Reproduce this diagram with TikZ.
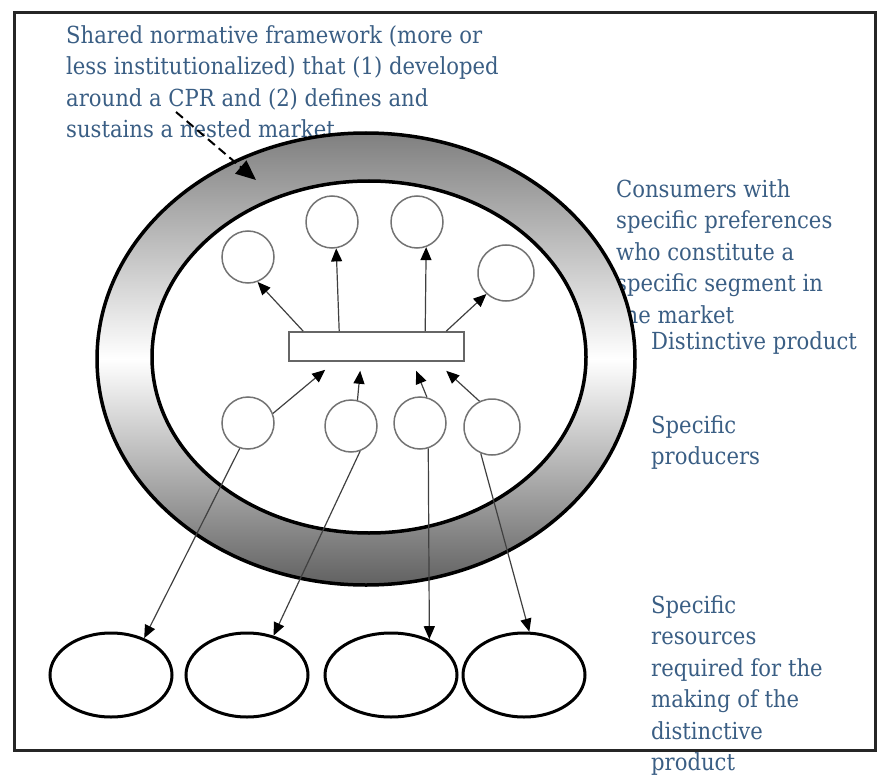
\documentclass[tikz,border=0pt]{standalone}
\usepackage{fontspec}
\setmainfont{DejaVu Serif}[FakeStretch=0.9]
\usepackage{tikz}
\usetikzlibrary{arrows.meta,shapes.geometric}
\definecolor{noteblue}{RGB}{58,94,132}

\begin{document}
\begin{tikzpicture}[x=1pt,y=-1pt,
  note/.style={text=noteblue,anchor=north west,align=left,inner sep=0pt,font=\fontsize{23.5}{31.5}\selectfont},
  agent/.style={circle,draw=black!55,line width=1.5pt,fill=white,minimum size=52pt,inner sep=0pt},
  resource/.style={ellipse,draw=black,line width=3pt,minimum width=122pt,minimum height=84pt,inner sep=0pt},
  flow/.style={draw=black!75,line width=1.2pt,-{Triangle[length=13pt,width=11pt,color=black]}}]
\useasboundingbox (0,0) rectangle (883,778);
\node[note] (frametext) at (66,25) {Shared normative framework (more or\\less institutionalized) that (1) developed\\around a CPR and (2) defines and\\sustains a nested market};
\node[note] (consumertext) at (616,179) {Consumers with\\specific preferences\\who constitute a\\specific segment in\\the market};
\node[note] (producttext) at (651,331) {Distinctive product};
\node[note] (producertext) at (651,415) {Specific\\producers};
\node[note] (resourcetext) at (651,595) {Specific\\resources\\required for the\\making of the\\distinctive\\product};
\shade[even odd rule,top color=black!50,bottom color=black!62,middle color=white]
  (366,359) ellipse [x radius=269pt,y radius=226pt] (369,357) ellipse [x radius=217pt,y radius=176pt];
\draw[line width=3.5pt] (366,359) ellipse [x radius=269pt,y radius=226pt];
\draw[line width=3.5pt] (369,357) ellipse [x radius=217pt,y radius=176pt];
\coordinate (cprmark) at (176,112);
\coordinate (ringmark) at (256,180);
\draw[line width=2pt,dash pattern=on 9pt off 5pt,-{Triangle[length=20pt,width=17pt]}] (cprmark) -- (ringmark);
\node[draw=black!60,line width=1.6pt,fill=white,minimum width=175pt,minimum height=29pt,inner sep=0pt] (prod) at (376.5,346.5) {};
\node[agent] (c1) at (248,257) {};
\node[agent] (c2) at (332,222) {};
\node[agent] (c3) at (417,222) {};
\node[agent,minimum size=56pt] (c4) at (506,273) {};
\node[agent] (p1) at (248,423) {};
\node[agent] (p2) at (351,426) {};
\node[agent] (p3) at (420,423) {};
\node[agent,minimum size=56pt] (p4) at (492,427) {};
\node[resource] (r1) at (111,675) {};
\node[resource] (r2) at (247,675) {};
\node[resource,minimum width=132pt] (r3) at (391,675) {};
\node[resource] (r4) at (524,675) {};
\draw[flow] ([xshift=15pt]prod.north west) -- (c1.-69);
\draw[flow] ([xshift=51pt]prod.north west) -- (c2.-81);
\draw[flow] ([xshift=137pt]prod.north west) -- (c3.-70);
\draw[flow] ([xshift=158pt]prod.north west) -- (c4.-133);
\draw[flow] (p1.21) -- ([xshift=37pt,yshift=-8pt]prod.south west);
\draw[flow] (p2.76) -- ([xshift=72pt,yshift=-9pt]prod.south west);
\draw[flow] (p3.75) -- ([xshift=128pt,yshift=-9pt]prod.south west);
\draw[flow] (p4.116) -- ([xshift=158pt,yshift=-9pt]prod.south west);
\draw[flow] (p1.-108) -- (r1.48);
\draw[flow] (p2.-70) -- (r2.56);
\draw[flow] (p3.-72) -- (r3.43);
\draw[flow] (p4.-113) -- (r4.83);
\draw[line width=3pt,black!85] (14,13) rectangle (875,750);
\end{tikzpicture}
\end{document}
